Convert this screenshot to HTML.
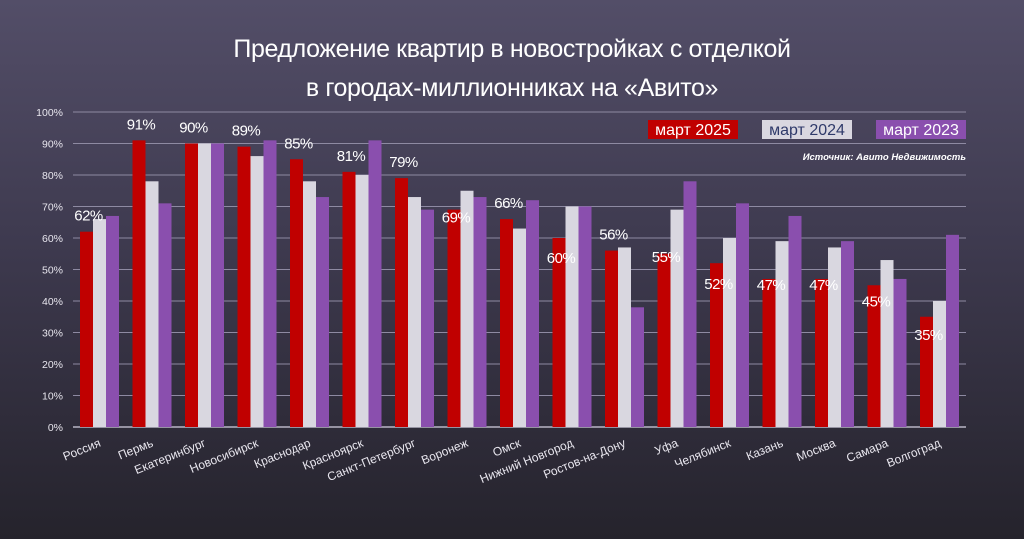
<!DOCTYPE html>
<html><head><meta charset="utf-8"><style>
body{margin:0;width:1024px;height:539px;overflow:hidden;background:linear-gradient(#534e68 0%,#3e3a4f 45%,#25232c 100%);font-family:"Liberation Sans","DejaVu Sans",sans-serif;}
svg{display:block}
</style></head><body>
<svg id="chart" width="1024" height="539" xmlns="http://www.w3.org/2000/svg">
<text x="512" y="57" text-anchor="middle" fill="#fff" font-size="25" letter-spacing="-0.4" font-family="Liberation Sans, sans-serif">Предложение квартир в новостройках с отделкой</text>
<text x="512" y="96" text-anchor="middle" fill="#fff" font-size="25" letter-spacing="-0.4" font-family="Liberation Sans, sans-serif">в городах-миллионниках на «Авито»</text>
<g id="grid"></g><g id="bars"></g><g id="labels"></g><g id="xlabels"></g>
<g>
<rect x="648" y="120" width="90" height="19" fill="#c00000"/>
<text x="693" y="135" text-anchor="middle" fill="#fff" font-size="16">март 2025</text>
<rect x="762" y="120" width="90" height="19" fill="#d9d7e0"/>
<text x="807" y="135" text-anchor="middle" fill="#2f3a6a" font-size="16">март 2024</text>
<rect x="876" y="120" width="90" height="19" fill="#8a4fae"/>
<text x="921" y="135" text-anchor="middle" fill="#fff" font-size="16">март 2023</text>
</g>
<text x="966" y="160" text-anchor="end" fill="#fff" font-size="9.5" font-style="italic" font-weight="bold">Источник: Авито Недвижимость</text>
</svg>
<script>
const categories=["Россия","Пермь","Екатеринбург","Новосибирск","Краснодар","Красноярск","Санкт-Петербург","Воронеж","Омск","Нижний Новгород","Ростов-на-Дону","Уфа","Челябинск","Казань","Москва","Самара","Волгоград"];
const s2025=[62,91,90,89,85,81,79,69,66,60,56,55,52,47,47,45,35];
const s2024=[66,78,90,86,78,80,73,75,63,70,57,69,60,59,57,53,40];
const s2023=[67,71,90,91,73,91,69,73,72,70,38,78,71,67,59,47,61];
const yTicks=[0,10,20,30,40,50,60,70,80,90,100];
const labelDy=[-17,-17,-17,-17,-17,-17,-17,7,-17,19,-17,2,20,5,5,15,17];
const NS="http://www.w3.org/2000/svg";
const y0=427,yTop=112,x0=80,step=52.5,bw=13;
function y(v){return y0-(y0-yTop)*v/100;}
function gx(i){return x0+i*step;}
function mk(tag,attrs,parent){const e=document.createElementNS(NS,tag);for(const k in attrs)e.setAttribute(k,attrs[k]);parent.appendChild(e);return e;}
const grid=document.getElementById('grid');
yTicks.forEach(t=>{
 const l=mk('line',{x1:73,x2:966,y1:y(t),y2:y(t),stroke:t===0?'#b9b6c6':'#8e8aa2','stroke-width':t===0?1.5:1},grid);
 
 
 const tx=mk('text',{x:63,y:y(t)+4,'text-anchor':'end',fill:'#e8e6ee','font-size':10.5},grid);
 tx.textContent=t+'%';
 
 
});
const bars=document.getElementById('bars'),labels=document.getElementById('labels'),xl=document.getElementById('xlabels');
const series=[[s2025,'#c00000','2025'],[s2024,'#d9d7e0','2024'],[s2023,'#8a4fae','2023']];
categories.forEach((c,i)=>{
 series.forEach((s,j)=>{
  const v=s[0][i];
  const r=mk('rect',{x:gx(i)+j*bw,y:y(v),width:bw,height:y0-y(v),fill:s[1]},bars);
  
  
 });
 const lb=mk('text',{x:gx(i)+bw/2+2,y:y(s2025[i])+labelDy[i]+6,'text-anchor':'middle',fill:'#fff','font-size':15,'letter-spacing':'-0.5'},labels);
 lb.textContent=s2025[i]+'%';
 
 
 const cx=gx(i)+1.5*bw+2;
 const t=mk('text',{x:cx,y:446,'text-anchor':'end',fill:'#e8e6ee','font-size':12,transform:'rotate(-22 '+cx+' 446)'},xl);
 t.textContent=c;
 
 
});
</script>
</body></html>
